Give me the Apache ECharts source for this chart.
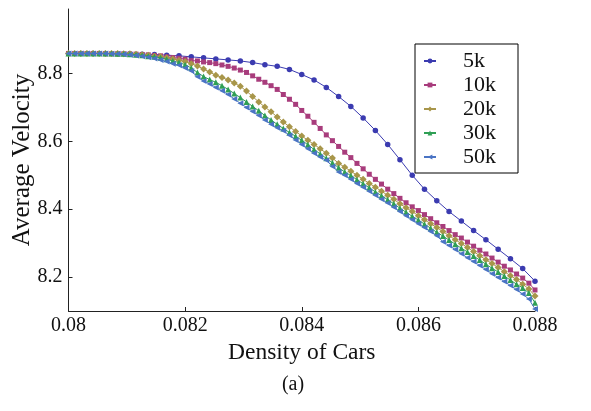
<!DOCTYPE html>
<html>
<head>
<meta charset="utf-8">
<script src="https://cdn.jsdelivr.net/npm/echarts@6/dist/echarts.min.js"></script>
<style>
  html, body { margin: 0; padding: 0; background: #fff; }
  #chart { width: 591px; height: 411px; }
</style>
</head>
<body>
<div id="chart"></div>
<script>
// Car density sampled for the 5k run (coarser grid)
const density5k = [
  0.080000, 0.080211, 0.080421, 0.080632, 0.080842, 0.081053, 0.081263, 0.081474, 0.081684, 0.081895,
  0.082105, 0.082316, 0.082526, 0.082737, 0.082947, 0.083158, 0.083368, 0.083579, 0.083789, 0.084000,
  0.084211, 0.084421, 0.084632, 0.084842, 0.085053, 0.085263, 0.085474, 0.085684, 0.085895, 0.086105,
  0.086316, 0.086526, 0.086737, 0.086947, 0.087158, 0.087368, 0.087579, 0.087789, 0.088000
];

// Car density sampled for the 10k, 20k, 30k and 50k runs
const density = [
  0.080000, 0.080105, 0.080211, 0.080316, 0.080421, 0.080526, 0.080632, 0.080737, 0.080842, 0.080947,
  0.081053, 0.081158, 0.081263, 0.081368, 0.081474, 0.081579, 0.081684, 0.081789, 0.081895,
  0.082000, 0.082105, 0.082211, 0.082316, 0.082421, 0.082526, 0.082632, 0.082737, 0.082842, 0.082947,
  0.083053, 0.083158, 0.083263, 0.083368, 0.083474, 0.083579, 0.083684, 0.083789, 0.083895,
  0.084000, 0.084105, 0.084211, 0.084316, 0.084421, 0.084526, 0.084632, 0.084737, 0.084842, 0.084947,
  0.085053, 0.085158, 0.085263, 0.085368, 0.085474, 0.085579, 0.085684, 0.085789, 0.085895,
  0.086000, 0.086105, 0.086211, 0.086316, 0.086421, 0.086526, 0.086632, 0.086737, 0.086842, 0.086947,
  0.087053, 0.087158, 0.087263, 0.087368, 0.087474, 0.087579, 0.087684, 0.087789, 0.087895,
  0.088000
];

const velocity5k = [
  8.859, 8.859, 8.859, 8.859, 8.858, 8.858, 8.857, 8.856, 8.854, 8.852,
  8.849, 8.846, 8.843, 8.840, 8.837, 8.832, 8.826, 8.821, 8.812, 8.797,
  8.781, 8.759, 8.732, 8.703, 8.669, 8.632, 8.591, 8.546, 8.500, 8.459,
  8.425, 8.393, 8.365, 8.337, 8.310, 8.282, 8.254, 8.225, 8.188
];

const velocity10k = [
  8.859, 8.859, 8.859, 8.859, 8.859, 8.859, 8.858, 8.858, 8.858, 8.858, 8.857,
  8.857, 8.856, 8.855, 8.853, 8.852, 8.849, 8.847, 8.845, 8.842, 8.838,
  8.837, 8.834, 8.832, 8.829, 8.825, 8.821, 8.816, 8.810, 8.803, 8.793,
  8.783, 8.774, 8.764, 8.753, 8.738, 8.724, 8.709, 8.691, 8.674, 8.656,
  8.638, 8.619, 8.602, 8.585, 8.568, 8.552, 8.535, 8.519, 8.503, 8.488,
  8.474, 8.459, 8.446, 8.432, 8.419, 8.407, 8.396, 8.384, 8.372, 8.360,
  8.349, 8.337, 8.325, 8.315, 8.303, 8.291, 8.279, 8.268, 8.256, 8.244,
  8.232, 8.221, 8.209, 8.197, 8.182, 8.162
];

const velocity20k = [
  8.859, 8.859, 8.859, 8.859, 8.859, 8.859, 8.859, 8.859, 8.859,
  8.858, 8.858, 8.857, 8.855, 8.854, 8.851, 8.849, 8.846, 8.843, 8.839, 8.835, 8.829,
  8.822, 8.813, 8.804, 8.795, 8.788, 8.781, 8.772, 8.762, 8.748, 8.732,
  8.716, 8.701, 8.687, 8.672, 8.657, 8.643, 8.629, 8.616, 8.603, 8.591,
  8.578, 8.565, 8.551, 8.535, 8.524, 8.512, 8.500, 8.488, 8.476, 8.465,
  8.453, 8.441, 8.429, 8.416, 8.404, 8.393, 8.381, 8.369, 8.357, 8.346,
  8.334, 8.322, 8.310, 8.299, 8.287, 8.275, 8.263, 8.251, 8.240, 8.228,
  8.216, 8.204, 8.193, 8.179, 8.165, 8.144
];

const velocity30k = [
  8.859, 8.859, 8.859, 8.859, 8.859, 8.859, 8.859, 8.859,
  8.858, 8.858, 8.857, 8.855, 8.854, 8.851, 8.849, 8.846, 8.842, 8.837, 8.832, 8.826, 8.816,
  8.803, 8.791, 8.782, 8.774, 8.764, 8.753, 8.741, 8.729, 8.716, 8.703,
  8.690, 8.676, 8.663, 8.650, 8.638, 8.626, 8.615, 8.603, 8.590, 8.576,
  8.563, 8.550, 8.537, 8.522, 8.510, 8.499, 8.487, 8.475, 8.463, 8.451,
  8.440, 8.428, 8.416, 8.403, 8.391, 8.379, 8.368, 8.356, 8.344, 8.332,
  8.321, 8.309, 8.297, 8.285, 8.274, 8.262, 8.250, 8.238, 8.226, 8.215,
  8.203, 8.191, 8.179, 8.168, 8.153, 8.124
];

const velocity50k = [
  8.859, 8.859, 8.859, 8.859, 8.859, 8.859, 8.859,
  8.858, 8.858, 8.857, 8.855, 8.853, 8.851, 8.848, 8.844, 8.840, 8.835, 8.829, 8.824, 8.816, 8.807,
  8.790, 8.778, 8.769, 8.759, 8.749, 8.738, 8.725, 8.712, 8.700, 8.688,
  8.676, 8.663, 8.650, 8.640, 8.631, 8.618, 8.604, 8.591, 8.578, 8.565,
  8.554, 8.544, 8.526, 8.510, 8.500, 8.488, 8.476, 8.465, 8.453, 8.441,
  8.429, 8.418, 8.406, 8.393, 8.381, 8.369, 8.357, 8.346, 8.334, 8.322,
  8.304, 8.293, 8.281, 8.269, 8.257, 8.246, 8.234, 8.222, 8.210, 8.199,
  8.187, 8.175, 8.163, 8.150, 8.135, 8.106
];

const seriesNames = ['5k', '10k', '20k', '30k', '50k'];
const yTickValues = [8.2, 8.4, 8.6, 8.8];

const serif = '"Liberation Serif", "DejaVu Serif", serif';

function pairs(xs, ys) {
  return ys.map((y, i) => [xs[i], y]);
}

const styles = [
  { color: '#3b3bb0', symbol: 'circle', size: 5.5, rotate: 0 },
  { color: '#a83c7c', symbol: 'rect', size: 5, rotate: 0 },
  { color: '#a8964a', symbol: 'diamond', size: 7, rotate: 0 },
  { color: '#2f9f55', symbol: 'triangle', size: 6, rotate: 0 },
  { color: '#4a74c4', symbol: 'triangle', size: 6, rotate: 90 }
];

const seriesData = [
  pairs(density5k, velocity5k),
  pairs(density, velocity10k),
  pairs(density, velocity20k),
  pairs(density, velocity30k),
  pairs(density, velocity50k)
];

const chart = echarts.init(document.getElementById('chart'), null, { renderer: 'canvas' });

chart.setOption({
  animation: false,
  backgroundColor: '#ffffff',
  title: {
    text: '(a)',
    left: 288,
    top: 370,
    textAlign: 'center',
    textStyle: { fontFamily: serif, fontSize: 20, fontWeight: 'normal', color: '#111' }
  },
  grid: { left: 68.5, right: 56, top: 9, bottom: 100, containLabel: false, outerBoundsMode: 'none' },
  legend: {
    orient: 'vertical',
    left: 415,
    top: 44,
    padding: [6, 22, 5, 8],
    itemGap: 2,
    itemWidth: 12,
    itemHeight: 6,
    borderColor: '#000',
    borderWidth: 1,
    borderRadius: 0,
    backgroundColor: '#fff',
    data: seriesNames,
    textStyle: { fontFamily: serif, fontSize: 22, color: '#111', lineHeight: 22, padding: [0, 0, 0, 22] }
  },
  xAxis: {
    type: 'value',
    min: 0.08,
    max: 0.088,
    interval: 0.002,
    name: 'Density of Cars',
    nameLocation: 'middle',
    nameGap: 30,
    nameTextStyle: { fontFamily: serif, fontSize: 23.5, color: '#111' },
    axisLine: { show: true, lineStyle: { color: '#222', width: 1 } },
    axisTick: { show: true, inside: true, length: 4, lineStyle: { color: '#222' } },
    axisLabel: {
      margin: 5,
      fontFamily: serif, fontSize: 20, color: '#111',
      formatter: v => String(parseFloat(v.toFixed(3)))
    },
    splitLine: { show: false }
  },
  yAxis: {
    type: 'value',
    min: 8.1,
    max: 8.99,
    name: 'Average Velocity',
    nameLocation: 'middle',
    nameGap: 34,
    nameMoveOverlap: false,
    nameTextStyle: { fontFamily: serif, fontSize: 25, color: '#111' },
    axisLine: { show: true, lineStyle: { color: '#222', width: 1 } },
    axisTick: { show: true, inside: true, length: 4, customValues: yTickValues, lineStyle: { color: '#222' } },
    axisLabel: {
      margin: 6,
      fontFamily: serif, fontSize: 20, color: '#111',
      customValues: yTickValues,
      formatter: v => v.toFixed(1)
    },
    splitLine: { show: false }
  },
  series: seriesNames.map((name, k) => ({
    name: name,
    type: 'line',
    data: seriesData[k],
    symbol: styles[k].symbol,
    symbolSize: styles[k].size,
    symbolRotate: styles[k].rotate,
    showAllSymbol: true,
    lineStyle: { color: styles[k].color, width: 1 },
    itemStyle: { color: styles[k].color, borderWidth: 0 },
    z: 2 + k
  }))
});
</script>
</body>
</html>
